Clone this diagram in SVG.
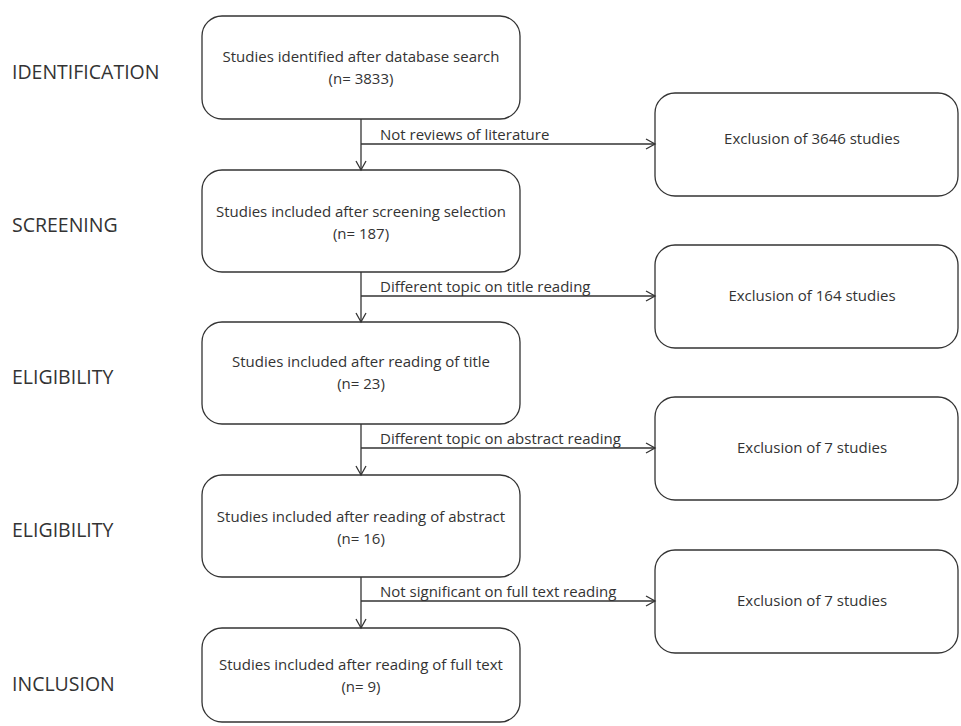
<svg xmlns="http://www.w3.org/2000/svg" width="961" height="726" viewBox="0 0 961 726">
<style>
.box{fill:#fff;stroke:#333;stroke-width:1.3}
.t{font-family:"Open Sans","Liberation Sans",sans-serif;font-size:15px;fill:#333;text-anchor:middle}
.lab{font-family:"Open Sans","Liberation Sans",sans-serif;font-size:15px;fill:#333}
.stage{font-family:"Open Sans","Liberation Sans",sans-serif;font-size:19.5px;fill:#333}
.ln{fill:none;stroke:#333;stroke-width:1.3}
</style>
<defs>
<marker id="ah" markerWidth="12" markerHeight="12" refX="10" refY="6" orient="auto" markerUnits="userSpaceOnUse">
<path d="M1,1 L10,6 L1,11" fill="none" stroke="#333" stroke-width="1.3"/>
</marker>
</defs>
<rect width="961" height="726" fill="#fff"/>
<g id="stages">
<text class="stage" x="12" y="79">IDENTIFICATION</text>
<text class="stage" x="12" y="232">SCREENING</text>
<text class="stage" x="12" y="384">ELIGIBILITY</text>
<text class="stage" x="12" y="537">ELIGIBILITY</text>
<text class="stage" x="12" y="691">INCLUSION</text>
</g>
<g id="n1"><rect class="box" x="202" y="16" width="318" height="103" rx="20"/>
<text class="t" x="361" y="62">Studies identified after database search</text>
<text class="t" x="361" y="84">(n= 3833)</text></g>
<g id="n2"><rect class="box" x="202" y="170" width="318" height="102" rx="20"/>
<text class="t" x="361" y="217">Studies included after screening selection</text>
<text class="t" x="361" y="239">(n= 187)</text></g>
<g id="n3"><rect class="box" x="202" y="322" width="318" height="102" rx="20"/>
<text class="t" x="361" y="367">Studies included after reading of title</text>
<text class="t" x="361" y="389">(n= 23)</text></g>
<g id="n4"><rect class="box" x="202" y="475" width="318" height="102" rx="20"/>
<text class="t" x="361" y="522">Studies included after reading of abstract</text>
<text class="t" x="361" y="544">(n= 16)</text></g>
<g id="n5"><rect class="box" x="202" y="628" width="318" height="94" rx="20"/>
<text class="t" x="361" y="670">Studies included after reading of full text</text>
<text class="t" x="361" y="692">(n= 9)</text></g>
<g id="r1"><rect class="box" x="655" y="93" width="303" height="103" rx="20"/>
<text class="t" x="812" y="144">Exclusion of 3646 studies</text></g>
<g id="r2"><rect class="box" x="655" y="245" width="303" height="103" rx="20"/>
<text class="t" x="812" y="301">Exclusion of 164 studies</text></g>
<g id="r3"><rect class="box" x="655" y="397" width="303" height="103" rx="20"/>
<text class="t" x="812" y="453">Exclusion of 7 studies</text></g>
<g id="r4"><rect class="box" x="655" y="550" width="303" height="103" rx="20"/>
<text class="t" x="812" y="606">Exclusion of 7 studies</text></g>
<g id="connectors">
<line class="ln" x1="361" y1="119" x2="361" y2="170" marker-end="url(#ah)"/>
<line class="ln" x1="361" y1="144" x2="655" y2="144" marker-end="url(#ah)"/>
<line class="ln" x1="361" y1="272" x2="361" y2="322" marker-end="url(#ah)"/>
<line class="ln" x1="361" y1="296" x2="655" y2="296" marker-end="url(#ah)"/>
<line class="ln" x1="361" y1="424" x2="361" y2="475" marker-end="url(#ah)"/>
<line class="ln" x1="361" y1="448" x2="655" y2="448" marker-end="url(#ah)"/>
<line class="ln" x1="361" y1="577" x2="361" y2="628" marker-end="url(#ah)"/>
<line class="ln" x1="361" y1="601" x2="655" y2="601" marker-end="url(#ah)"/>
<text class="lab" x="380" y="140">Not reviews of literature</text>
<text class="lab" x="380" y="292">Different topic on title reading</text>
<text class="lab" x="380" y="444">Different topic on abstract reading</text>
<text class="lab" x="380" y="597">Not significant on full text reading</text>
</g>
</svg>
